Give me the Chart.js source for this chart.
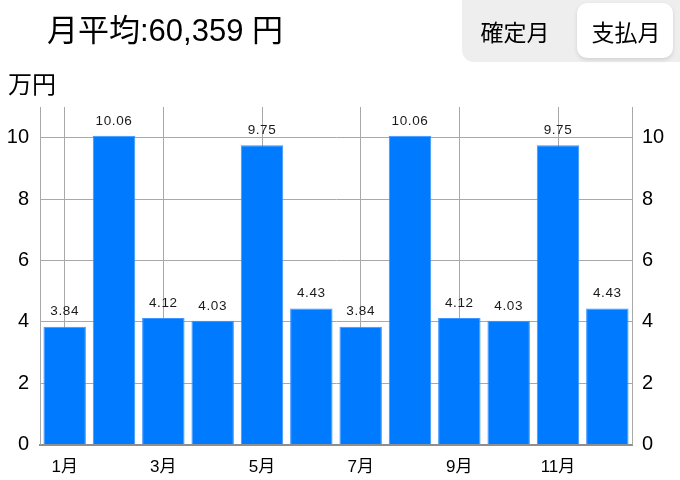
<!DOCTYPE html>
<html>
<head>
<meta charset="utf-8">
<script src="https://cdn.jsdelivr.net/npm/chart.js@4"></script>
<style>
  html, body { margin:0; padding:0; background:#fff; }
  body { width:680px; height:480px; position:relative; overflow:hidden;
         font-family:"Liberation Sans","Noto Sans CJK JP",sans-serif; color:#000; }
  #c { position:absolute; left:0; top:0; }
  .ov { position:absolute; white-space:nowrap; }
  #title { left:47px; top:12px; font-size:31px; line-height:38px; }
  #unit { left:8px; top:70px; font-size:24px; line-height:30px; }
  #seg { left:462px; top:-12px; width:240px; height:74px; border-radius:12px; background:#eeeeef; }
  #pill { left:577px; top:3px; width:96px; height:55px; border-radius:10px; background:#fff;
          box-shadow:0 2px 4px rgba(0,0,0,0.12); }
  .segt { font-size:23px; line-height:30px; top:18px; width:96px; text-align:center; }
</style>
</head>
<body>
<canvas id="c" width="680" height="480"></canvas>
<div class="ov" id="title">月平均:60,359 円</div>
<div class="ov" id="unit">万円</div>
<div class="ov" id="seg"></div>
<div class="ov" id="pill"></div>
<div class="ov segt" style="left:467px;">確定月</div>
<div class="ov segt" style="left:578px;">支払月</div>
<script>
const months = ['1月','2月','3月','4月','5月','6月','7月','8月','9月','10月','11月','12月'];
const values = [3.84, 10.06, 4.12, 4.03, 9.75, 4.43, 3.84, 10.06, 4.12, 4.03, 9.75, 4.43];
const yTicks = [0, 2, 4, 6, 8, 10];
const yMax = 11;

const FONT = '"Liberation Sans","Noto Sans CJK JP",sans-serif';

const valueLabels = {
  id: 'valueLabels',
  afterDatasetsDraw(chart) {
    const ctx = chart.ctx;
    const meta = chart.getDatasetMeta(0);
    ctx.save();
    ctx.font = '13.5px ' + FONT;
    ctx.fillStyle = '#1a1a1a';
    ctx.textAlign = 'center';
    ctx.textBaseline = 'middle';
    try { ctx.letterSpacing = '0.6px'; } catch(e) {}
    meta.data.forEach((bar, i) => {
      ctx.fillText(values[i].toFixed(2), bar.x, bar.y - 15);
    });
    ctx.restore();
  }
};

const filterTicks = (scale) => {
  scale.ticks = yTicks.map(v => ({ value: v }));
};

new Chart(document.getElementById('c'), {
  type: 'bar',
  data: {
    labels: months,
    datasets: [{
      data: values,
      backgroundColor: '#007AFF',
      borderColor: '#3d95ff',
      borderWidth: 1,
      barPercentage: 0.86,
      categoryPercentage: 1.0
    }]
  },
  options: {
    responsive: false,
    animation: false,
    layout: { padding: { top: 107, left: 0, right: 0, bottom: 0 } },
    plugins: { legend: { display: false }, tooltip: { enabled: false } },
    scales: {
      x: {
        grid: { offset: false, color: '#a8a8a8', lineWidth: 1, drawTicks: false },
        border: { display: true, color: '#8e8e8e', width: 2 },
        ticks: {
          autoSkip: false, maxRotation: 0, minRotation: 0,
          callback: (v, i) => (i % 2 === 0 ? months[i] : null),
          font: { size: 17, family: FONT }, color: '#000', padding: 13
        },
        afterFit: (s) => { s.height = 35.5; }
      },
      y: {
        position: 'left', min: 0, max: yMax,
        afterBuildTicks: filterTicks,
        grid: { color: (c) => (c.tick && c.tick.value === 0 ? '#8e8e8e' : '#a8a8a8'), lineWidth: 1, drawTicks: false },
        border: { display: true, color: '#a8a8a8', width: 1 },
        ticks: { font: { size: 20, family: FONT }, color: '#000', padding: 11 },
        afterFit: (s) => { s.width = 40; }
      },
      y2: {
        position: 'right', min: 0, max: yMax,
        afterBuildTicks: filterTicks,
        grid: { drawOnChartArea: false, drawTicks: false },
        border: { display: true, color: '#a8a8a8', width: 1 },
        ticks: { font: { size: 20, family: FONT }, color: '#000', padding: 10 },
        afterFit: (s) => { s.width = 48; }
      }
    }
  },
  plugins: [valueLabels]
});
</script>
</body>
</html>
